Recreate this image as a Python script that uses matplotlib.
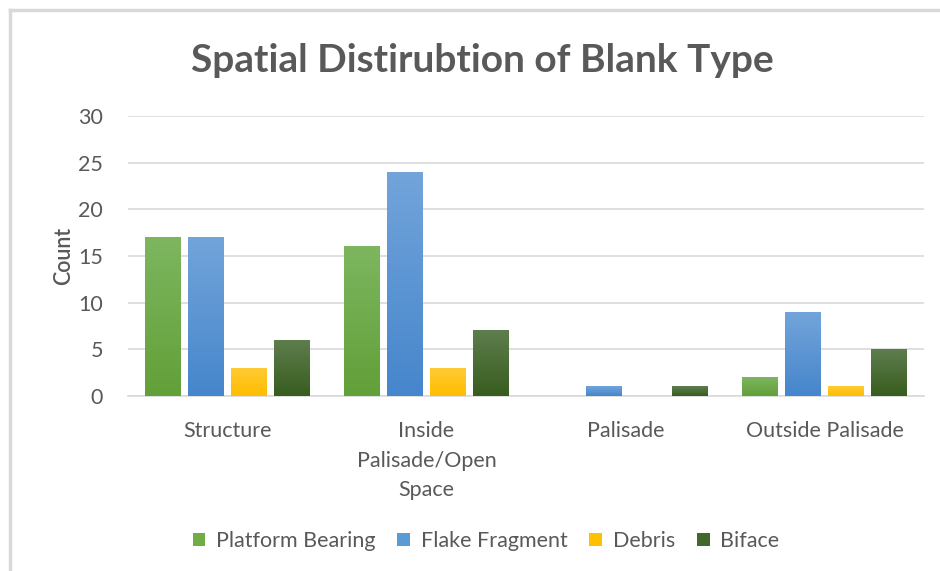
import numpy as np
import matplotlib.pyplot as plt
from matplotlib.colors import LinearSegmentedColormap
from matplotlib.lines import Line2D
from matplotlib.patches import Patch

categories = ["Structure", "Inside\nPalisade/Open\nSpace", "Palisade", "Outside Palisade"]
series_names = ["Platform Bearing", "Flake Fragment", "Debris", "Biface"]
platform_bearing = [17, 16, 0, 2]
flake_fragment = [17, 24, 1, 9]
debris = [3, 3, 0, 1]
biface = [6, 7, 1, 5]
values = [platform_bearing, flake_fragment, debris, biface]

# (top colour, bottom colour) for the gradient fill, middle colour for legend
colors = [("#7db65f", "#62a039", "#70ad47"),
          ("#72a4da", "#4686cc", "#5b9bd5"),
          ("#ffcb33", "#ffbd00", "#ffc000"),
          ("#5e7d4d", "#385d1f", "#43682b")]

plt.rcParams["font.family"] = ["Lato", "DejaVu Sans"]
text_color = "#595959"

fig = plt.figure(figsize=(9.4, 5.71), dpi=100)
ax = fig.add_axes([128 / 940, 1 - 396 / 571, (924 - 128) / 940, (396 - 116) / 571])

x = np.arange(len(categories))
width = 0.18
step = 0.215
offsets = (np.arange(4) - 1.5) * step

grad = np.linspace(1, 0, 64).reshape(-1, 1)
for i, (vals, (top, bottom, mid)) in enumerate(zip(values, colors)):
    bars = ax.bar(x + offsets[i], vals, width, color=mid, zorder=2)
    cmap = LinearSegmentedColormap.from_list(f"g{i}", [bottom, top])
    for b in bars:
        h = b.get_height()
        if h <= 0:
            continue
        x0 = b.get_x()
        b.set_visible(False)
        ax.imshow(grad, cmap=cmap, extent=(x0, x0 + width, 0, h),
                  aspect="auto", zorder=3, origin="upper", interpolation="bilinear")

ax.set_xlim(-0.5, len(categories) - 0.5)
ax.set_ylim(0, 30)
ax.set_yticks(np.arange(0, 31, 5))
ax.yaxis.grid(True, color="#d9d9d9", linewidth=1.2, zorder=0)
ax.set_axisbelow(True)
for s in ["top", "right", "left"]:
    ax.spines[s].set_visible(False)
ax.spines["bottom"].set_color("#d9d9d9")
ax.spines["bottom"].set_linewidth(1.2)
ax.tick_params(axis="both", length=0, labelsize=15.5, colors=text_color)
ax.tick_params(axis="y", pad=18)
ax.tick_params(axis="x", pad=18)
ax.set_xticks(x)
ax.set_xticklabels(categories, linespacing=1.6, va="top")
ax.set_ylabel("Count", fontsize=15.5, fontweight="semibold", color=text_color, labelpad=3)

fig.text(482 / 940, 1 - 60 / 571, "Spatial Distirubtion of Blank Type",
         ha="center", va="center", fontsize=28, fontweight="bold", color=text_color)

handles = [Patch(facecolor=c[2], edgecolor="none") for c in colors]
fig.legend(handles, series_names, loc="center", bbox_to_anchor=(486 / 940, 1 - 541 / 571),
           ncol=4, frameon=False, fontsize=15.5, handlelength=0.6, handleheight=0.6,
           handletextpad=0.5, columnspacing=1.0, labelcolor=text_color)

# chart frame (only left and top edges visible in the crop)
fig.add_artist(Line2D([10 / 940, 10 / 940], [0, 1 - 10 / 571], color="#d9d9d9", linewidth=2.5))
fig.add_artist(Line2D([10 / 940, 1], [1 - 10 / 571, 1 - 10 / 571], color="#d9d9d9", linewidth=2.5))

fig.savefig("out.png", dpi=100)
